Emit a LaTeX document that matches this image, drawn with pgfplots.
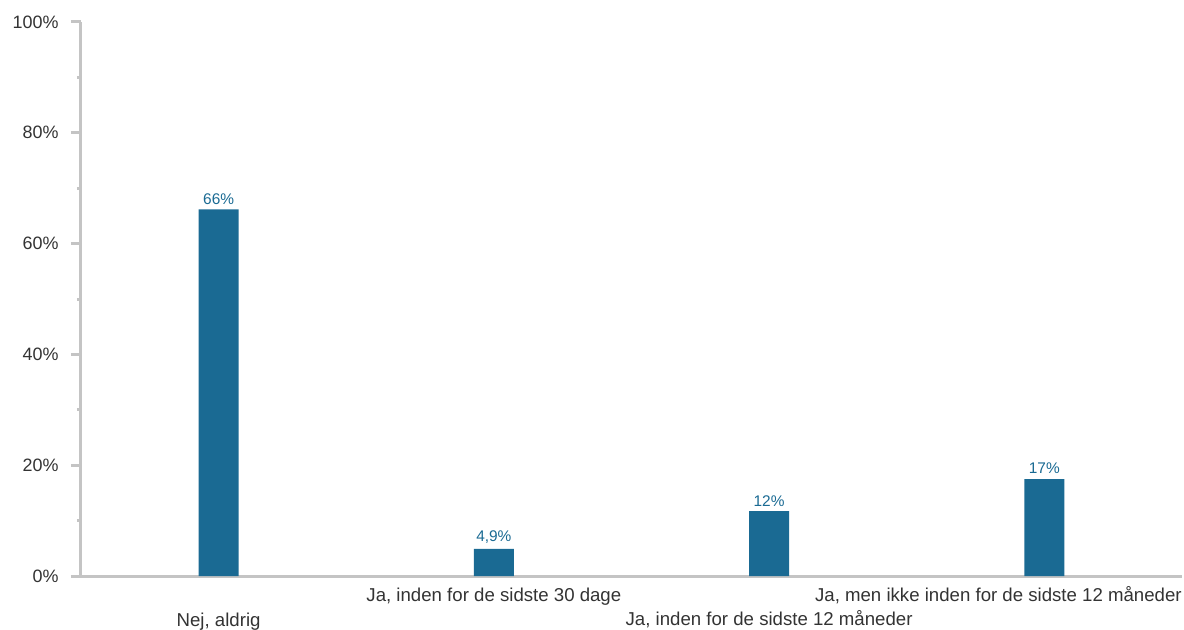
\documentclass[border=0pt]{standalone}
\usepackage{pgfplots}
\pgfplotsset{compat=1.18}
\usepackage{fontspec}
\setmainfont{Liberation Sans}
\definecolor{barblue}{HTML}{1A6A93}
\definecolor{axgrey}{HTML}{C4C4C4}
\definecolor{txt}{HTML}{333333}
\begin{document}
\begin{tikzpicture}
\begin{axis}[
  scale only axis,
  width=1101bp, height=554bp,
  xmin=-0.5, xmax=3.5,
  ymin=0, ymax=100,
  axis x line=bottom, axis y line=left,
  axis line style={draw=axgrey, line width=3bp, -},
  xtick=\empty,
  ytick={0,20,40,60,80,100},
  yticklabels={0\%,20\%,40\%,60\%,80\%,100\%},
  minor ytick={10,30,50,70,90},
  tick align=outside,
  major tick length=10bp,
  minor tick length=4bp,
  y tick style={draw=axgrey, line width=3bp},
  yticklabel style={font=\fontsize{18}{21}\selectfont, text=txt, xshift=-9bp},
  clip=false,
  ybar, bar width=40bp, bar shift=0pt,
  nodes near coords,
  point meta=explicit symbolic,
  nodes near coords style={font=\fontsize{15.5}{18}\selectfont, text=barblue, anchor=south, yshift=1.5bp},
]
\addplot[fill=barblue, draw=none] table[meta=lab] {
x y lab
0 66.2 66\%
1 4.9 {4,9\%}
2 11.7 12\%
3 17.5 17\%
};
\begin{scope}[every node/.style={font=\fontsize{18.7}{22}\selectfont, text=txt, anchor=base, inner sep=0pt}]
\node at (axis cs:0,0) [yshift=-50bp] {Nej, aldrig};
\node at (axis cs:1,0) [yshift=-25bp] {Ja, inden for de sidste 30 dage};
\node at (axis cs:2,0) [yshift=-49bp] {Ja, inden for de sidste 12 måneder};
\node at (axis cs:2.833,0) [yshift=-25bp] {Ja, men ikke inden for de sidste 12 måneder};
\end{scope}
\end{axis}
\path (-81bp,-52bp) rectangle (1103bp,576bp);
\end{tikzpicture}
\end{document}
